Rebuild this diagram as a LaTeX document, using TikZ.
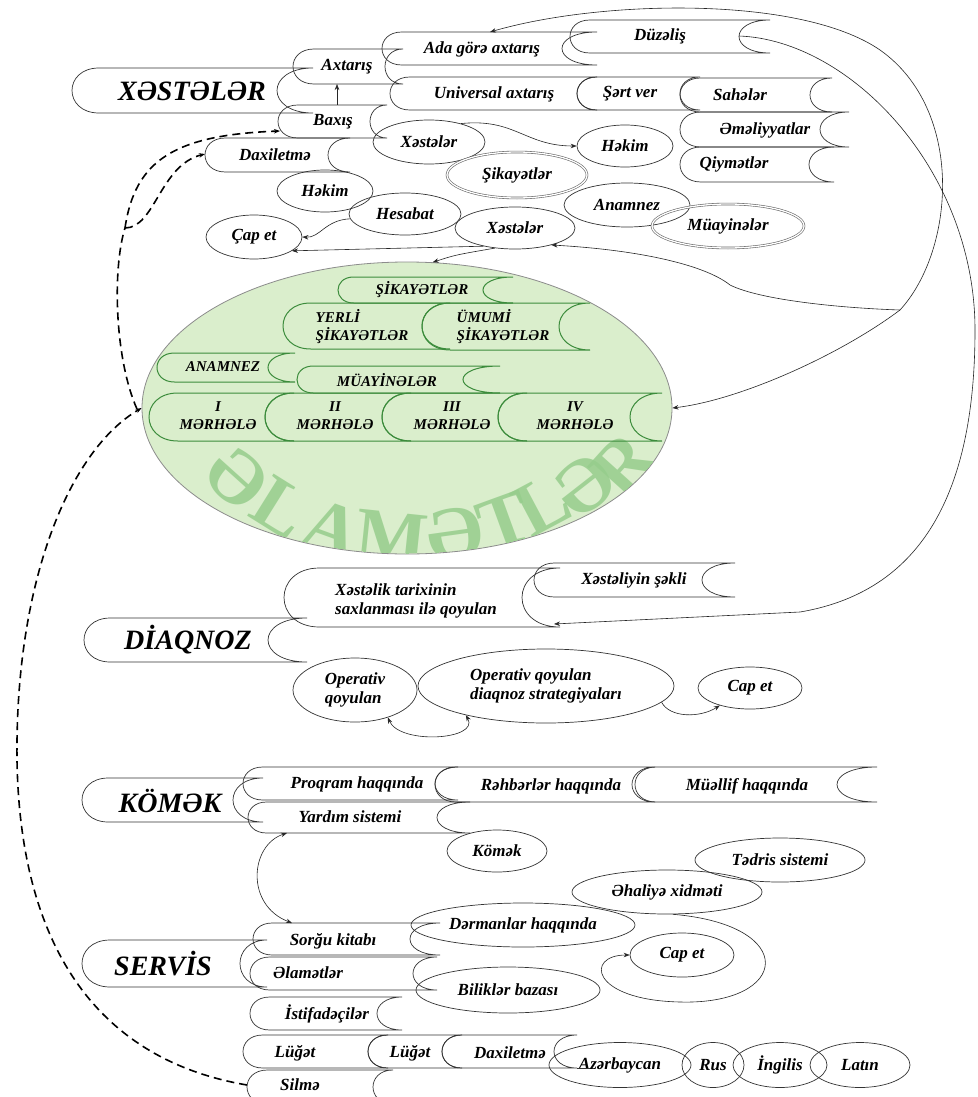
\documentclass[tikz,border=0pt]{standalone}
\usepackage{fontspec}
\setmainfont{Liberation Serif}
\usetikzlibrary{arrows.meta,shapes.geometric}
\definecolor{gr}{RGB}{60,140,60}
\definecolor{ellfill}{RGB}{218,238,204}
\definecolor{wmc}{RGB}{150,205,140}
\newcommand\scrl[6][]{%
  \pgfmathsetmacro\scH{#6-#5}%
  \pgfmathsetmacro\scA{#2-0.2*\scH}%
  \pgfmathsetmacro\scB{#2+0.6*\scH}%
  \pgfmathsetmacro\scC{#4-(#4-#3)/0.75}%
  \draw[shp,#1] (#4,#5) -- (\scB,#5) .. controls (\scA,#5) and (\scA,#6) .. (\scB,#6) -- (#4,#6)
     (#4,#5) .. controls (\scC,#5) and (\scC,#6) .. (#4,#6);
}
\begin{document}
\begin{tikzpicture}[x=1pt,y=-1pt,
  lbl/.style={font=\bfseries\itshape\fontsize{17}{19}\selectfont, inner sep=0pt},
  ttl/.style={font=\bfseries\itshape\fontsize{28}{30}\selectfont, inner sep=0pt},
  glbl/.style={font=\bfseries\itshape\fontsize{15}{18}\selectfont, inner sep=0pt, align=center},
  ell/.style={ellipse, draw=black!80, line width=0.7pt, inner sep=0pt, font=\bfseries\itshape\fontsize{17}{19}\selectfont, align=center},
  dell/.style={ell, draw=black!60, double=white, double distance=1.3pt, line width=0.6pt},
  shp/.style={draw=black!80, line width=0.7pt},
  gshp/.style={draw=gr, line width=1pt},
  arr/.style={-{Stealth[length=6pt,width=4.5pt]}, line width=0.6pt, black!85},
  arrb/.style={{Stealth[length=6pt,width=4.5pt]}-{Stealth[length=6pt,width=4.5pt]}, line width=0.6pt, black!85},
  dsh/.style={dash pattern=on 8pt off 5pt, line width=1.6pt, black},
  wm/.style={font=\bfseries\fontsize{76}{76}\selectfont, text=wmc, opacity=0.85, inner sep=0pt}]
\useasboundingbox (0,0) rectangle (977,1097);
\fill[white] (0,0) rectangle (977,1097);

% ---------- big ellipse ----------
\node[ellipse, draw=black!45, fill=ellfill, line width=0.8pt, minimum width=530pt, minimum height=292pt, inner sep=0pt] (bigell) at (407,408) {};
\begin{scope}
\clip (407,408) ellipse [x radius=264, y radius=145];
\foreach \ch/\px/\py/\rr in {Ə/237/478/-42, L/281/508/-32, A/332/529/-20, M/392/537/-6, Ə/455/534/8, T/505/521/20, L/542/505/28, Ə/584/486/38, R/623/464/48}
  \node[wm, rotate=\rr] at (\px,\py) {\ch};
\end{scope}

% ---------- XƏSTƏLƏR block ----------
\scrl{72}{277}{313}{68}{113}
\scrl{293}{385}{403}{49}{84}
\scrl{278}{370}{387}{105}{138}
\scrl{382}{562}{597}{32}{65}
\scrl{570}{739}{770}{20}{53}
\scrl{390}{577}{597}{77}{110}
\scrl{577}{680}{700}{77}{110}
\scrl{680}{810}{832}{78}{112}
\scrl{680}{820}{849}{112}{147}
\scrl{680}{809}{834}{147}{182}
\scrl{205}{328}{350}{138}{172}

\node[ttl] (xest) at (192,91) {XƏSTƏLƏR};
\node[lbl] (axt) at (347,67) {Axtarış};
\node[lbl] (bax) at (333,122) {Baxış};
\node[lbl] (ada) at (482,49) {Ada görə axtarış};
\node[lbl] (duz) at (660,36) {Düzəliş};
\node[lbl] (univ) at (494,94) {Universal axtarış};
\node[lbl] (sert) at (630,94) {Şərt ver};
\node[lbl] (sah) at (740,95) {Sahələr};
\node[lbl] (eml) at (765,130) {Əməliyyatlar};
\node[lbl] (qiy) at (734,164) {Qiymətlər};
\node[lbl] (dax) at (275,155) {Daxiletmə};

\node[ell, minimum width=112pt, minimum height=44pt] (xs1) at (429,142) {Xəstələr};
\node[ell, minimum width=96pt, minimum height=42pt] (hk2) at (625,146) {Həkim};
\node[dell, minimum width=140pt, minimum height=46pt] (sik) at (517,175) {Şikayətlər};
\node[ell, minimum width=126pt, minimum height=44pt] (anm) at (627,205) {Anamnez};
\node[dell, minimum width=152pt, minimum height=44pt] (muay) at (728,226) {Müayinələr};
\node[ell, minimum width=120pt, minimum height=42pt] (xs2) at (515,228) {Xəstələr};
\node[ell, minimum width=96pt, minimum height=42pt] (hk1) at (325,191) {Həkim};
\node[ell, minimum width=112pt, minimum height=42pt] (hes) at (405,214) {Hesabat};
\node[ell, minimum width=96pt, minimum height=44pt] (cap1) at (254,237) {Çap et};

% ---------- green scrolls ----------
\scrl[gshp]{338}{483}{513}{277}{303}
\scrl[gshp]{283}{422}{450}{303}{349}
\scrl[gshp]{422}{559}{590}{303}{350}
\scrl[gshp]{157}{268}{295}{353}{382}
\scrl[gshp]{297}{463}{500}{366}{393}
\scrl[gshp]{149}{265}{294}{393}{441}
\scrl[gshp]{265}{382}{411}{393}{441}
\scrl[gshp]{382}{498}{527}{393}{441}
\scrl[gshp]{498}{630}{662}{393}{441}
\node[glbl] (gsik) at (422,290) {ŞİKAYƏTLƏR};
\node[glbl, align=left] (gyer) at (362,327) {YERLİ\\ŞİKAYƏTLƏR};
\node[glbl, align=left] (gumu) at (503,327) {ÜMUMİ\\ŞİKAYƏTLƏR};
\node[glbl] (ganm) at (223,367) {ANAMNEZ};
\node[glbl] (gmuay) at (387,380) {MÜAYİNƏLƏR};
\node[glbl] (gm1) at (218,416) {I\\MƏRHƏLƏ};
\node[glbl] (gm2) at (335,416) {II\\MƏRHƏLƏ};
\node[glbl] (gm3) at (452,416) {III\\MƏRHƏLƏ};
\node[glbl] (gm4) at (575,416) {IV\\MƏRHƏLƏ};

% ---------- DİAQNOZ ----------
\scrl{284}{522}{560}{568}{627}
\scrl{534}{702}{735}{563}{597}
\scrl{84}{268}{307}{618}{662}
\node[lbl, align=left, anchor=west] (xtar) at (335,601) {Xəstəlik tarixinin\\saxlanması ilə qoyulan};
\node[lbl] (xsek) at (634,580) {Xəstəliyin şəkli};
\node[ttl] (diaq) at (188,640) {DİAQNOZ};
\node[ell, align=left, minimum width=124pt, minimum height=64pt] (opq) at (355,690) {Operativ\\qoyulan};
\node[ell, align=left, minimum width=256pt, minimum height=74pt] (str) at (546,686) {Operativ qoyulan\\diaqnoz strategiyaları};
\node[ell, minimum width=104pt, minimum height=42pt] (cap2) at (750,688) {Cap et};

% ---------- KÖMƏK ----------
\scrl{82}{233}{263}{778}{822}
\scrl{243}{435}{458}{767}{800}
\scrl{435}{632}{655}{767}{802}
\scrl{635}{837}{877}{767}{802}
\scrl{248}{437}{470}{802}{833}
\node[ttl] (komek) at (170,801) {KÖMƏK};
\node[lbl] (proq) at (357,784) {Proqram haqqında};
\node[lbl] (rehb) at (551,786) {Rəhbərlər haqqında};
\node[lbl] (muel) at (747,786) {Müəllif haqqında};
\node[lbl] (yard) at (350,817) {Yardım sistemi};
\node[ell, minimum width=100pt, minimum height=42pt] (kmk) at (497,851) {Kömək};
\node[ell, minimum width=170pt, minimum height=44pt] (tedr) at (780,860) {Tədris sistemi};
\node[ell, minimum width=190pt, minimum height=44pt] (ahal) at (667,892) {Əhaliyə xidməti};
\node[ell, minimum width=224pt, minimum height=44pt] (derm) at (523,925) {Dərmanlar haqqında};
\node[ell, minimum width=184pt, minimum height=46pt] (bil) at (508,990) {Biliklər bazası};
\node[ell, minimum width=104pt, minimum height=44pt] (cap3) at (682,955) {Cap et};

% ---------- SERVİS ----------
\scrl{82}{240}{267}{940}{987}
\scrl{253}{410}{440}{923}{955}
\scrl{250}{413}{437}{957}{990}
\scrl{250}{377}{402}{997}{1030}
\scrl{243}{368}{388}{1035}{1068}
\scrl{368}{442}{462}{1035}{1068}
\scrl{442}{554}{577}{1035}{1068}
\scrl{247}{373}{393}{1070}{1104}
\node[ttl] (serv) at (163,964) {SERVİS};
\node[lbl] (sorg) at (333,941) {Sorğu kitabı};
\node[lbl] (elam) at (308,973) {Əlamətlər};
\node[lbl] (istf) at (327,1014) {İstifadəçilər};
\node[lbl] (lug1) at (295,1053) {Lüğət};
\node[lbl] (lug2) at (410,1053) {Lüğət};
\node[lbl] (dax2) at (510,1053) {Daxiletmə};
\node[lbl] (silm) at (300,1085) {Silmə};
\node[ell, minimum width=142pt, minimum height=45pt] (az) at (620,1065) {Azərbaycan};
\node[ell, minimum width=62pt, minimum height=45pt] (rus) at (713,1065) {Rus};
\node[ell, minimum width=94pt, minimum height=45pt] (ing) at (780,1065) {İngilis};
\node[ell, minimum width=100pt, minimum height=45pt] (lat) at (860,1065) {Latın};

% ---------- coordinates ----------
\coordinate (baxT) at (337,105);
\coordinate (axtB) at (337,84);
\coordinate (adaT) at (490,32);
\coordinate (duzR) at (739,36);
\coordinate (xtBR) at (554,624);
\coordinate (J) at (900,310);
\coordinate (K) at (125,228);
\coordinate (dE) at (137,409);
\coordinate (baxL) at (280,131);
\coordinate (daxL) at (205,154);
\coordinate (silL) at (247,1085);
\coordinate (yardB) at (287,833);
\coordinate (sorgT) at (292,923);
\coordinate (daxR) at (577,1068);
\coordinate (azL) at (590,1068);

% ---------- connectors ----------
\draw[arr] (baxT) -- (axtB);
\draw[arr] (xs1.30) .. controls (515,118) and (525,146) .. (hk2.west);
\draw[arr] (hes.185) .. controls (325,220) and (320,238) .. (cap1.east);
\draw[arr] (xs2.210) -- (cap1.-20);
\draw[arr] (xs2.225) .. controls (455,255) .. (bigell.80);
\draw[arr] (J) .. controls (955,250) and (965,110) .. (880,50) .. controls (800,-5) and (600,0) .. (adaT);
\draw[arr] (J) .. controls (840,355) and (740,400) .. (bigell.east);
\draw[arr] (J) .. controls (840,308) and (760,300) .. (730,285) .. controls (705,265) and (640,250) .. (xs2.-25);
\draw[arr] (duzR) .. controls (850,40) and (975,170) .. (975,330) .. controls (975,480) and (930,590) .. (800,612) -- (xtBR);
\draw[shp] (daxR) -- (azL);

\draw[dsh] (dE) .. controls (115,360) and (112,270) .. (K);
\draw[arr,dsh] (K) .. controls (135,160) and (175,135) .. (baxL);
\draw[arr,dsh] (K) .. controls (155,228) and (160,165) .. (daxL);
\draw[arr,dsh] (silL) .. controls (100,1060) and (20,950) .. (17,760) .. controls (15,580) and (70,450) .. (bigell.west);

\draw[arrb] (opq.-40) .. controls (400,745) and (480,740) .. (str.200);
\draw[arr] (str.-8) .. controls (670,718) and (700,718) .. (cap2.210);
\draw[arrb] (sorgT) .. controls (245,905) and (250,845) .. (yardB);
\draw[arr] (ahal.-75) .. controls (800,925) and (790,1005) .. (680,1002) .. controls (590,1000) and (585,955) .. (cap3.west);
\end{tikzpicture}
\end{document}
